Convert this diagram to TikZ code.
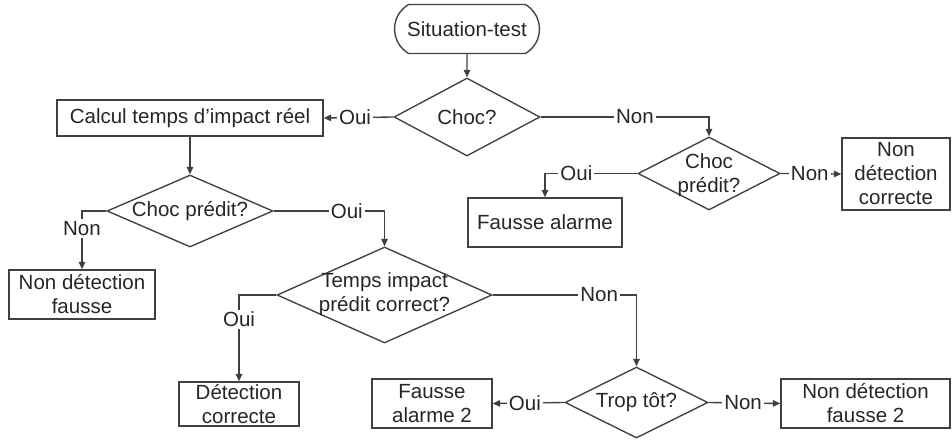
\documentclass[tikz,border=0pt]{standalone}
\usepackage{fontspec}
\setmainfont{Liberation Sans}
\usetikzlibrary{shapes.geometric,shapes.misc,arrows.meta}
\begin{document}
\begin{tikzpicture}[x=1pt,y=-1pt,
  font=\fontsize{20.5}{24}\selectfont,
  every node/.style={text=black!85},
  line width=1.35pt,
  box/.style={draw=black!75, rectangle, inner sep=0pt, align=center},
  term/.style={draw=black!75, rounded rectangle, rounded rectangle arc length=120, inner sep=0pt},
  dec/.style={draw=black!75, diamond, inner sep=0pt},
  dtext/.style={align=center, inner sep=0pt},
  lbl/.style={fill=white, inner sep=2pt},
  arr/.style={draw=black!75, -{Triangle[length=7.5pt,width=6.5pt]}}]
\path[use as bounding box] (0,0) rectangle (952,439);

\node[term, minimum width=145pt, minimum height=49pt] (start) at (467,29) {Situation-test};
\node[dec, minimum width=146pt, minimum height=78pt] (c1) at (467,117) {};
\node[dtext] (c1t) at (c1) {Choc?};
\node[box, minimum width=266pt, minimum height=36pt] (calc) at (190,118) {Calcul temps d’impact réel};
\node[dec, minimum width=166pt, minimum height=72pt] (c2) at (190,211) {};
\node[dtext] (c2t) at (c2) {Choc prédit?};
\node[box, minimum width=146pt, minimum height=49pt] (nondf) at (82,294.5) {Non détection\\fausse};
\node[dec, minimum width=215pt, minimum height=96pt] (c3) at (384.5,295) {};
\node[dtext] (c3t) at (384.5,294) {Temps impact\\prédit correct?};
\node[box, minimum width=120pt, minimum height=44pt] (detc) at (239,404) {Détection\\correcte};
\node[dec, minimum width=143pt, minimum height=71pt] (c4) at (636.5,402.5) {};
\node[dtext] (c4t) at (c4) {Trop tôt?};
\node[box, minimum width=120pt, minimum height=49pt] (fa2) at (432,403.5) {Fausse\\alarme 2};
\node[box, minimum width=169pt, minimum height=49pt] (ndf2) at (865.5,403.5) {Non détection\\fausse 2};
\node[dec, minimum width=142pt, minimum height=73pt] (c5) at (709,173.5) {};
\node[dtext] (c5t) at (709,175) {Choc\\prédit?};
\node[box, minimum width=154pt, minimum height=49pt] (fa) at (545,222.5) {Fausse alarme};
\node[box, minimum width=108pt, minimum height=72pt] (ndc) at (896,174) {Non\\détection\\correcte};

\draw[arr] (start) -- (c1);
\draw[arr] (c1.west) -- node[lbl,pos=0.55]{Oui} (calc.east);
\draw[arr] (calc) -- (c2);
\draw[arr] (c2.west) -| node[lbl,pos=0.65]{Non} (nondf.north);
\draw[arr] (c2.east) -| node[lbl,pos=0.33]{Oui} (c3.north);
\draw[arr] (c3.west) -| node[lbl,pos=0.64]{Oui} (detc.north);
\draw[arr] (c3.east) -| node[lbl,pos=0.37]{Non} (c4.north);
\draw[arr] (c4.west) -- node[lbl,pos=0.55]{Oui} (fa2.east);
\draw[arr] (c4.east) -- node[lbl,pos=0.48]{Non} (ndf2.west);
\draw[arr] (c1.east) -| node[lbl,pos=0.28]{Non} (c5.north);
\draw[arr] (c5.west) -| node[lbl,pos=0.33]{Oui} (fa.north);
\draw[arr] (c5.east) -- node[lbl,pos=0.48]{Non} (ndc.west);
\end{tikzpicture}
\end{document}
